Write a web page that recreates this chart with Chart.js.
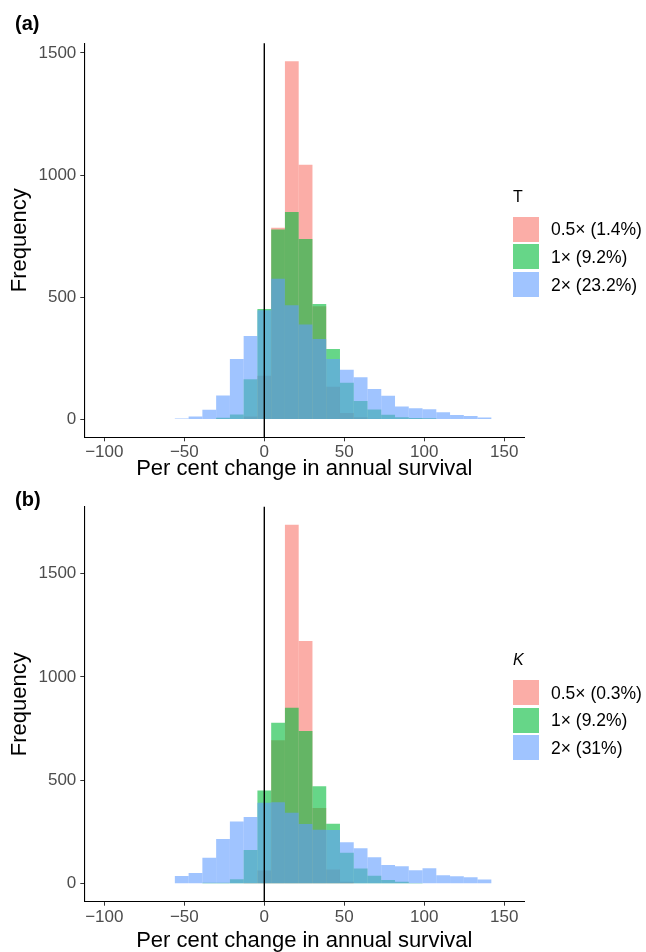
<!DOCTYPE html>
<html>
<head>
<meta charset="utf-8">
<title>Per cent change in annual survival</title>
<script src="https://cdn.jsdelivr.net/npm/chart.js@4.4.1/dist/chart.umd.min.js"></script>
<style>
  body { margin: 0; background: #fff; font-family: 'Liberation Sans', Arial, sans-serif; }
  #wrap { position: relative; width: 646px; height: 952px; overflow: hidden; }
  canvas { position: absolute; left: 0; }
  .tag { position: absolute; left: 15px; font-weight: bold; font-size: 20px; line-height: 20px; }
  .ltitle { position: absolute; left: 513px; font-size: 16px; line-height: 16px; color: #000; }
  .lkeys { position: absolute; left: 513px; }
  .lrow { display: flex; align-items: center; height: 25px; margin-bottom: 2.7px; }
  .lbox { width: 26px; height: 25px; margin-right: 12px; }
  .ltext { font-size: 17.5px; line-height: 20px; color: #000; white-space: nowrap; }
</style>
</head>
<body>
<div id="wrap">
  <canvas id="panelA" width="646" height="480" style="top:0"></canvas>
  <canvas id="panelB" width="646" height="476" style="top:476px"></canvas>
  <div class="tag" style="top:12.6px">(a)</div>
  <div class="tag" style="top:488.6px">(b)</div>
  <div class="ltitle" id="titleA" style="top:189px">T</div>
  <div class="lkeys" id="keysA" style="top:216.7px"></div>
  <div class="ltitle" id="titleB" style="top:652px;font-style:italic">K</div>
  <div class="lkeys" id="keysB" style="top:680px"></div>
</div>
<script>
// bin mid-points (per cent change) shared by both histograms
const binMids = [-60.2, -51.6, -43, -34.4, -25.8, -17.2, -8.6, 0, 8.6, 17.2, 25.8, 34.4,
                 43, 51.6, 60.2, 68.8, 77.4, 86, 94.6, 103.2, 111.8, 120.4, 129, 137.6];
const xTicks = [-100, -50, 0, 50, 100, 150];
const yTicks = [0, 500, 1000, 1500];
const refLines = [0];

// (a) T
const tLabels = ['0.5× (1.4%)', '1× (9.2%)', '2× (23.2%)'];
const tHalf = [0, 0, 0, 0, 0, 0, 12, 179, 784, 1466, 1042, 463, 134, 26, 9, 3, 0, 0, 0, 0, 0, 0, 0, 0];
const tOne  = [0, 0, 0, 2, 7, 20, 164, 452, 777, 849, 738, 472, 288, 150, 76, 41, 19, 9, 6, 5, 2, 0, 0, 0];
const tTwo  = [0, 4, 12, 40, 98, 247, 341, 447, 576, 467, 388, 329, 247, 203, 173, 125, 97, 53, 46, 42, 30, 18, 14, 8];

// (b) K
const kLabels = ['0.5× (0.3%)', '1× (9.2%)', '2× (31%)'];
const kHalf = [0, 0, 0, 0, 0, 0, 3, 64, 694, 1736, 1174, 366, 69, 10, 2, 0, 0, 0, 0, 0, 0, 0, 0, 0];
const kOne  = [0, 0, 0, 5, 5, 21, 163, 451, 778, 851, 739, 471, 290, 150, 73, 38, 18, 9, 4, 2, 0, 0, 0, 0];
const kTwo  = [2, 37, 52, 126, 216, 301, 323, 391, 394, 343, 289, 261, 260, 201, 172, 128, 91, 85, 65, 75, 41, 36, 31, 20];

const fills = ['rgba(248,118,109,0.6)', 'rgba(0,186,56,0.6)', 'rgba(97,156,255,0.6)'];

Chart.defaults.font.family = "'Liberation Sans', Arial, sans-serif";

const refLinePlugin = {
  id: 'refLine',
  afterDatasetsDraw(chart) {
    const { ctx, chartArea, scales } = chart;
    refLines.forEach(v => {
      const px = scales.x.getPixelForValue(v);
      ctx.save();
      ctx.strokeStyle = '#000';
      ctx.lineWidth = 1.4;
      ctx.beginPath();
      ctx.moveTo(px, chartArea.top);
      ctx.lineTo(px, chartArea.bottom);
      ctx.stroke();
      ctx.restore();
    });
  }
};

const minus = v => String(v).replace('-', '\u2212');

function makePanel(id, counts, yMin, yMax, padTop, xHeight) {
  new Chart(document.getElementById(id), {
    type: 'bar',
    data: {
      datasets: counts.map((c, i) => ({
        data: binMids.map((x, j) => ({ x, y: c[j] })),
        backgroundColor: fills[i],
        borderWidth: 0,
        inflateAmount: 0,
        barPercentage: 1,
        categoryPercentage: 1,
        grouped: false,
        order: 3 - i
      }))
    },
    options: {
      responsive: false,
      animation: false,
      layout: { padding: { top: padTop, right: 121.7, left: 0, bottom: 0 } },
      plugins: { legend: { display: false }, tooltip: { enabled: false } },
      scales: {
        x: {
          type: 'linear', min: -112.5, max: 162.5, offset: false,
          afterBuildTicks: s => { s.ticks = xTicks.map(value => ({ value })); },
          afterFit: s => { s.height = xHeight; },
          grid: { drawOnChartArea: false, drawTicks: true, tickLength: 4, color: '#333', offset: false },
          border: { display: true, color: '#000', width: 1.1 },
          ticks: { color: '#4D4D4D', font: { size: 17 }, padding: 1, maxRotation: 0, callback: minus },
          title: { display: true, text: 'Per cent change in annual survival', color: '#000',
                   font: { size: 22, lineHeight: 1 }, padding: { top: 0, bottom: 0 } }
        },
        y: {
          min: yMin, max: yMax,
          afterBuildTicks: s => { s.ticks = yTicks.map(value => ({ value })); },
          afterFit: s => { s.width = 84.3; },
          grid: { drawOnChartArea: false, drawTicks: true, tickLength: 4, color: '#333' },
          border: { display: true, color: '#000', width: 1.1 },
          ticks: { color: '#4D4D4D', font: { size: 17 }, padding: 4, callback: minus },
          title: { display: true, text: 'Frequency', color: '#000',
                   font: { size: 22, lineHeight: 1 }, padding: { top: 9, bottom: 0 } }
        }
      }
    },
    plugins: [refLinePlugin]
  });
}

function makeLegend(elId, labels) {
  const el = document.getElementById(elId);
  labels.forEach((txt, i) => {
    const row = document.createElement('div');
    row.className = 'lrow';
    const box = document.createElement('div');
    box.className = 'lbox';
    box.style.background = fills[i];
    const t = document.createElement('span');
    t.className = 'ltext';
    t.textContent = txt;
    row.appendChild(box);
    row.appendChild(t);
    el.appendChild(row);
  });
}

makePanel('panelA', [tHalf, tOne, tTwo], -73, 1539, 43.3, 42.7);
makePanel('panelB', [kHalf, kOne, kTwo], -87, 1823, 30.7, 50.3);
makeLegend('keysA', tLabels);
makeLegend('keysB', kLabels);
</script>
</body>
</html>
